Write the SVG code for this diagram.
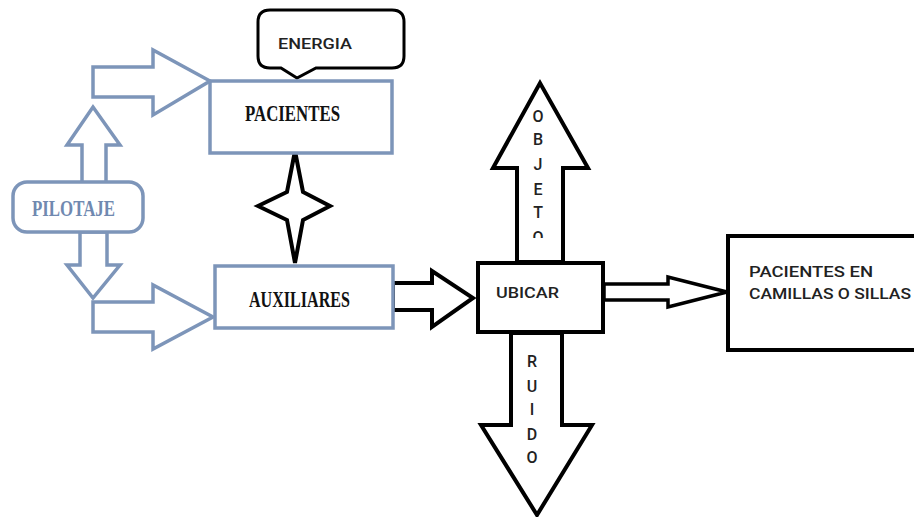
<svg xmlns="http://www.w3.org/2000/svg" width="914" height="517" viewBox="0 0 914 517">
<style>
.blue{fill:#fff;stroke:#7d95b9;stroke-width:3.5;stroke-linejoin:miter}
.blk{fill:#fff;stroke:#000;stroke-width:4;stroke-linejoin:miter}
.cond{font-family:"Liberation Serif",serif;font-weight:bold;font-size:24px}
.sans{font-family:"Roboto","Liberation Sans",sans-serif;font-size:15px;fill:#222;font-weight:500}
.vert{font-family:"Roboto","Liberation Sans",sans-serif;font-size:16px;fill:#222;font-weight:500;text-anchor:middle}
</style>
<defs>
<clipPath id="objclip"><rect x="500" y="80" width="80" height="158"/></clipPath>
</defs>
<rect width="914" height="517" fill="#fff"/>
<g id="connectors">
<polygon class="blue" points="93,67 153,67 153,50 210,81 153,115 153,97 93,97"/>
<polygon class="blue" points="82,183 82,145 67,145 93,107 120,145 106,145 106,183"/>
<polygon class="blue" points="80,232 107,232 107,265 120,265 93,298 67,265 80,265"/>
<polygon class="blue" points="93,302 153,302 153,285 213,317 153,349 153,332 93,332"/>
<path class="blk" d="M295,151 L303,192 L330,206 L303,220 L295,263 L287,220 L258,206 L287,192 Z"/>
<polygon class="blk" points="393,283 432,283 432,271 473,298 432,327 432,310 393,310"/>
<polygon class="blk" points="517,262 517,168 493,168 540,83 588,168 563,168 563,262"/>
<polygon class="blk" points="511,333 511,425 481,425 537,515 592,425 562,425 562,333"/>
<polygon class="blk" style="stroke-width:3.5" points="604,284 668,284 668,277 727,292 668,307 668,300 604,300"/>
<g clip-path="url(#objclip)">
<text class="vert" x="538" y="122">O</text>
<text class="vert" x="538" y="145">B</text>
<text class="vert" x="538" y="170">J</text>
<text class="vert" x="538" y="195">E</text>
<text class="vert" x="538" y="218">T</text>
<text class="vert" x="538" y="243">O</text>
</g>
<text class="vert" x="532" y="367">R</text>
<text class="vert" x="532" y="392">U</text>
<text class="vert" x="532" y="415">I</text>
<text class="vert" x="532" y="440">D</text>
<text class="vert" x="532" y="463">O</text>
</g>
<g id="energia">
<path class="blk" style="stroke-width:3" d="M270,10 H392 Q404,10 404,22 V56 Q404,68 392,68 H316 L297,78 L281,68 H270 Q258,68 258,56 V22 Q258,10 270,10 Z"/>
<text class="sans" x="278" y="49" textLength="74" lengthAdjust="spacingAndGlyphs">ENERGIA</text>
</g>
<g id="pacientes">
<rect class="blue" x="210" y="81" width="182" height="72"/>
<text class="cond" x="245" y="121" fill="#111" textLength="95" lengthAdjust="spacingAndGlyphs">PACIENTES</text>
</g>
<g id="pilotaje">
<rect class="blue" x="13" y="182" width="130" height="50" rx="14"/>
<text class="cond" x="32" y="216" fill="#7089b0" textLength="83" lengthAdjust="spacingAndGlyphs">PILOTAJE</text>
</g>
<g id="auxiliares">
<rect class="blue" x="215" y="266" width="178" height="62"/>
<text class="cond" x="249" y="307" fill="#111" textLength="101" lengthAdjust="spacingAndGlyphs">AUXILIARES</text>
</g>
<g id="ubicar">
<rect class="blk" x="478" y="263" width="125" height="69"/>
<text class="sans" x="496" y="298" textLength="63" lengthAdjust="spacingAndGlyphs">UBICAR</text>
</g>
<g id="pacientes-en">
<rect class="blk" x="728" y="236" width="200" height="114"/>
<text class="sans" x="749" y="277" textLength="124" lengthAdjust="spacingAndGlyphs">PACIENTES EN</text>
<text class="sans" x="749" y="299" textLength="162" lengthAdjust="spacingAndGlyphs">CAMILLAS O SILLAS</text>
</g>
</svg>
